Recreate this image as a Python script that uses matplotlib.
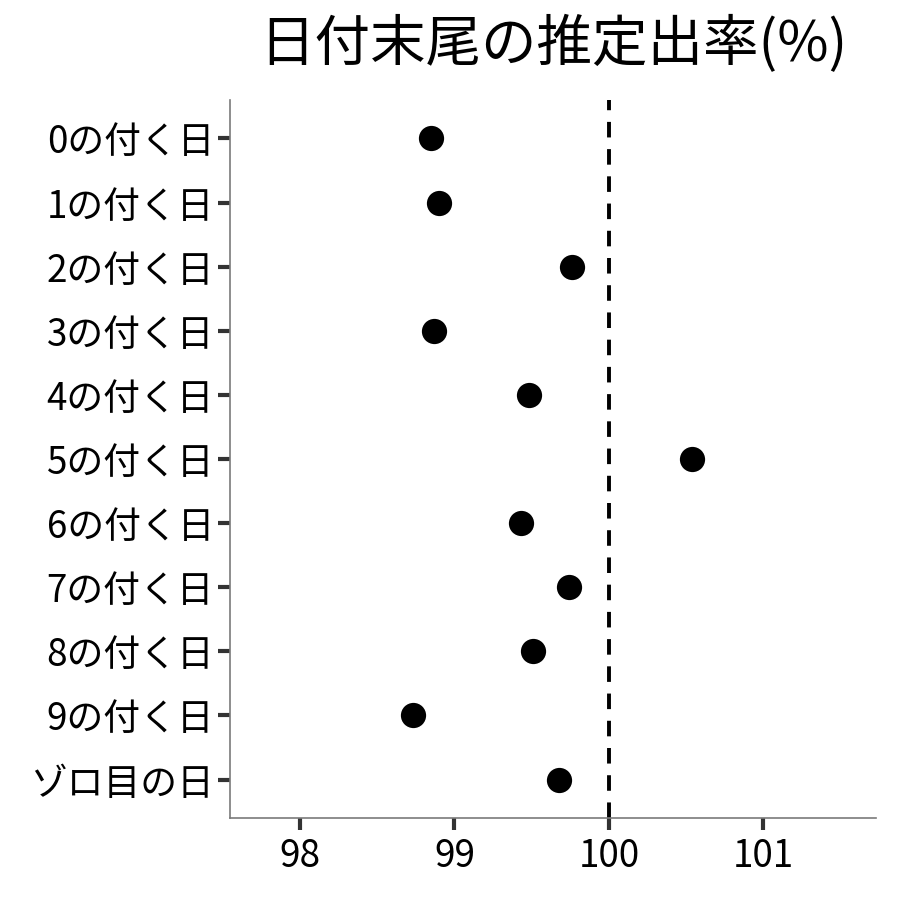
import matplotlib
matplotlib.use("Agg")
import matplotlib.pyplot as plt

plt.rcParams['font.family'] = ['Noto Sans CJK JP', 'DejaVu Sans']

categories = ["0の付く日", "1の付く日", "2の付く日", "3の付く日", "4の付く日",
              "5の付く日", "6の付く日", "7の付く日", "8の付く日", "9の付く日", "ゾロ目の日"]
values = [98.85, 98.90, 99.76, 98.87, 99.48, 100.54, 99.43, 99.74, 99.51, 98.73, 99.68]
xticks = [98, 99, 100, 101]
title = "日付末尾の推定出率(%)"
ref_line = 100

fig = plt.figure(figsize=(9, 9), dpi=100)
ax = fig.add_axes([230/900, 1-818/900, (876-230)/900, (818-100)/900])

ypos = list(range(len(categories)))
ax.scatter(values, ypos, s=330, color='black', zorder=3, linewidths=0)
ax.axvline(ref_line, color='black', linestyle=(0, (4, 3)), linewidth=2.8, zorder=2)

ax.set_xlim(97.546, 101.73)
ax.set_ylim(len(categories) - 0.4, -0.6)
ax.set_yticks(ypos)
ax.set_yticklabels(categories)
ax.set_xticks(xticks)
ax.set_xticklabels([str(t) for t in xticks])

for s in ['top', 'right']:
    ax.spines[s].set_visible(False)
for s in ['left', 'bottom']:
    ax.spines[s].set_color('#7a7a7a')
    ax.spines[s].set_linewidth(1.2)
ax.tick_params(axis='both', length=8.5, width=3, color='#333333', labelsize=26.5, labelcolor='black')
ax.tick_params(axis='y', pad=3)
ax.tick_params(axis='x', pad=5)

fig.text(553/900, 1-45/900, title, ha='center', va='center', fontsize=40)

fig.savefig("out.png", dpi=100)
